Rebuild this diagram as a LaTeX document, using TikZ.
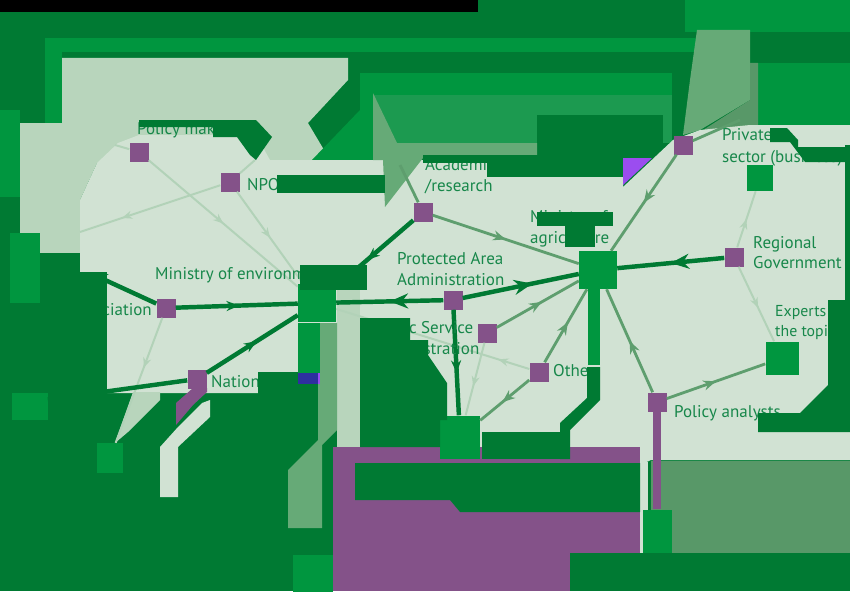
\documentclass[tikz,border=0pt]{standalone}
\usepackage{fontspec}
\setmainfont{PT Sans}
\usetikzlibrary{arrows.meta, decorations.markings}

\definecolor{dkgreen}{HTML}{007A33}
\definecolor{nodegreen}{HTML}{00963F}
\definecolor{bglight}{HTML}{D1E2D3}
\definecolor{palegreen}{HTML}{B8D5BC}
\definecolor{wedgegreen}{HTML}{66AA77}
\definecolor{sagegreen}{HTML}{589868}
\definecolor{leafgreen}{HTML}{1C9A50}
\definecolor{actor}{HTML}{845289}
\definecolor{txtgreen}{HTML}{17874A}
\definecolor{medline}{HTML}{5E9E6E}
\definecolor{ltline}{HTML}{B2D2B8}
\definecolor{violet}{HTML}{9B4DEF}
\definecolor{inkblue}{HTML}{2E2FA0}

\begin{document}
\begin{tikzpicture}[x=0.03cm, y=-0.03cm,
    purplebox/.style={fill=actor, minimum size=0.57cm, inner sep=0pt},
    greenbox/.style={fill=nodegreen, minimum size=#1, inner sep=0pt},
    lbl/.style={text=txtgreen, font=\fontsize{14.5}{17}\selectfont, inner sep=0pt, anchor=base west},
    mainlink/.style={draw=dkgreen, line width=3.8pt},
    sidelink/.style={draw=medline, line width=2.4pt},
    weaklink/.style={draw=ltline, line width=1.7pt},
    bigarr/.style={postaction={decorate}, decoration={markings, mark=at position #1 with {\arrow{Stealth[length=0.55cm, width=0.45cm]}}}},
    midarr/.style={postaction={decorate}, decoration={markings, mark=at position #1 with {\arrow{Stealth[length=0.38cm, width=0.3cm]}}}},
    smallarr/.style={postaction={decorate}, decoration={markings, mark=at position #1 with {\arrow{Stealth[length=0.3cm, width=0.24cm]}}}}]
\useasboundingbox (0,0) rectangle (850,591);

% Фон
\fill[dkgreen] (0,0) rectangle (850,591);
\fill[black] (0,0) rectangle (478,12);
\fill[nodegreen] (685,0) rectangle (850,32);
\fill[nodegreen] (45,38) rectangle (697,52);
\fill[nodegreen] (45,52) rectangle (62,132);
\fill[nodegreen] (0,110) rectangle (20,197);
\fill[palegreen] (20,123) -- (62,123) -- (62,58) -- (348,58) -- (348,80) -- (308,123) -- (330,160)
  -- (97,163) -- (80,200) -- (80,253) -- (40,253) -- (40,233) -- (20,233) -- cycle;
\fill[nodegreen] (360,73) rectangle (672,95);
\fill[nodegreen] (312,160) -- (360,110) -- (360,73) -- (373,73) -- (373,160) -- cycle;
\fill[leafgreen] (373,95) rectangle (672,143);
\fill[dkgreen] (537,115) rectangle (663,158);
\fill[nodegreen] (758,63) rectangle (850,125);
\fill[wedgegreen] (697,30) -- (750,30) -- (750,100) -- (700,130) -- (683,135) -- (690,80) -- cycle;
\fill[sagegreen] (750,63) -- (758,63) -- (758,125) -- (700,132) -- (750,100) -- cycle;

% Светлая область
\fill[bglight] (80,200) -- (97,163) -- (118,143) -- (139,135) -- (256,135) -- (270,160) -- (623,160)
  -- (623,187) -- (673,140) -- (700,130) -- (750,125) -- (850,125) -- (850,460) -- (651,460)
  -- (640,465) -- (570,465) -- (570,432) -- (482,432) -- (482,458) -- (440,458) -- (440,447)
  -- (337,447) -- (337,372) -- (258,372) -- (258,393) -- (107,393) -- (107,272) -- (80,272) -- cycle;
\fill[wedgegreen] (373,93) -- (397,143) -- (537,143) -- (537,158) -- (423,158) -- (385,207) -- (383,160) -- (373,160) -- cycle;
\fill[violet] (623,158) -- (652,158) -- (623,185) -- cycle;
\fill[palegreen] (337,290) rectangle (360,447);
\fill[wedgegreen] (318,323) -- (337,323) -- (337,430) -- (322,445) -- (322,528) -- (288,528) -- (288,470) -- (318,440) -- cycle;
\fill[sagegreen] (651,461) rectangle (850,553);
\fill[bglight] (640,462) rectangle (648,578);
\fill[actor] (333,447) rectangle (640,591);
\fill[dkgreen] (355,463) -- (640,463) -- (640,512) -- (460,512) -- (450,500) -- (355,500) -- cycle;
\fill[dkgreen] (570,553) rectangle (850,591);
\fill[palegreen] (115,443) -- (133,392) -- (160,392) -- (160,400) -- (128,432) -- cycle;
\fill[bglight] (160,447) -- (178,427) -- (202,403) -- (210,400) -- (210,417) -- (178,447) -- (178,497) -- (160,497) -- cycle;
\fill[actor] (176,403) -- (193,388) -- (207,388) -- (207,392) -- (193,405) -- (176,425) -- cycle;

% Узлы
\node[purplebox] (pm) at (139,152) {};
\node[purplebox] (npo) at (230,182) {};
\node[purplebox] (acad) at (423,212) {};
\node[purplebox] (pa) at (453,300) {};
\node[purplebox] (assoc) at (166,308) {};
\node[purplebox] (nat) at (197,379) {};
\node[purplebox] (psa) at (487,333) {};
\node[purplebox] (oth) at (539,372) {};
\node[purplebox] (priv) at (683,145) {};
\node[purplebox] (reg) at (734,257) {};
\node[purplebox] (pan) at (657,402) {};
\node[greenbox=1.14cm] (magr) at (598,270) {};
\node[greenbox=1.14cm] (menv) at (317,303) {};
\node[greenbox=1.2cm, minimum height=1.29cm] (gbot) at (460,437) {};
\node[greenbox=0.78cm] (privg) at (760,178) {};
\node[greenbox=0.99cm] (exp) at (782,358) {};
\node[greenbox=0.87cm, minimum height=1.29cm] (pang) at (657,531) {};
\node[greenbox=1.05cm] (gleft) at (30,402) {};
\node[greenbox=0.78cm, minimum height=0.9cm] (glow) at (110,458) {};
\node[greenbox=1.2cm] (gfoot) at (313,575) {};
\coordinate (pmw) at (115,145);
\coordinate (npow) at (80,232);
\coordinate (npon) at (255,160);
\coordinate (acadn) at (400,165);
\coordinate (assocw) at (92,274);
\coordinate (privne) at (740,120);

% Связи
\draw[weaklink] (pm) -- (pmw);
\draw[weaklink, smallarr=0.5] (pm) -- (menv);
\draw[weaklink, smallarr=0.5] (npo) -- (menv);
\draw[weaklink, smallarr=0.7] (npo) -- (npow);
\draw[weaklink] (npo) -- (npon);
\draw[weaklink, smallarr=0.4] (assoc) -- (glow);
\draw[weaklink, smallarr=0.6] (psa) -- (gbot);
\draw[weaklink, smallarr=0.16] (oth) -- (menv);
\draw[weaklink, smallarr=0.5] (reg) -- (privg);
\draw[weaklink, smallarr=0.55] (reg) -- (exp);
\draw[sidelink] (acad) -- (acadn);
\draw[sidelink, midarr=0.5] (acad) -- (magr);
\draw[sidelink, midarr=0.55] (psa) -- (magr);
\draw[sidelink, midarr=0.55] (oth) -- (magr);
\draw[sidelink, midarr=0.55] (oth) -- (gbot);
\draw[sidelink, midarr=0.5] (priv) -- (magr);
\draw[sidelink] (priv) -- (privne);
\draw[sidelink, midarr=0.5] (pan) -- (magr);
\draw[sidelink, midarr=0.5] (pan) -- (exp);
\draw[actor, line width=6pt] (pan) -- (pang);
\draw[mainlink, midarr=0.6] (acad) -- (menv);
\draw[mainlink, midarr=0.52] (assoc) -- (menv);
\draw[mainlink, -{Stealth[length=0.45cm, width=0.4cm]}] (assoc) -- (assocw);
\draw[mainlink, midarr=0.55] (nat) -- (menv);
\draw[mainlink] (nat) -- (gleft);
\draw[mainlink, bigarr=0.6] (pa) -- (magr);
\draw[mainlink, bigarr=0.5] (pa) -- (menv);
\draw[mainlink, midarr=0.6] (pa) -- (gbot);
\draw[mainlink, bigarr=0.5] (reg) -- (magr);

% Подписи
\node[lbl] (lpm) at (137,134) {Policy makers};
\node[lbl] (lnpo) at (247,190) {NPOs};
\node[lbl] (lacad1) at (425,170) {Academia};
\node[lbl] (lacad2) at (425,191) {/research};
\node[lbl] (lmagr1) at (530,222) {Ministry of};
\node[lbl] (lmagr2) at (530,243) {agriculture};
\node[lbl] (lpa1) at (397,264) {Protected Area};
\node[lbl] (lpa2) at (397,285) {Administration};
\node[lbl] (lmenv) at (155,279) {Ministry of environment};
\node[lbl, anchor=base east] (lassoc) at (152,315) {Association};
\node[lbl] (lnat) at (211,387) {National};
\node[lbl] (lpsa1) at (372,333) {Public Service};
\node[lbl] (lpsa2) at (372,354) {Administration};
\node[lbl] (loth) at (553,376) {Other};
\node[lbl] (lpriv1) at (722,140) {Private};
\node[lbl] (lpriv2) at (722,162) {sector (business)};
\node[lbl] (lreg1) at (753,248) {Regional};
\node[lbl] (lreg2) at (753,268) {Government};
\node[lbl, font=\fontsize{13.5}{16}\selectfont] (lexp1) at (775,316) {Experts on};
\node[lbl, font=\fontsize{13.5}{16}\selectfont] (lexp2) at (775,336) {the topic};
\node[lbl] (lpan) at (674,417) {Policy analysts};

% Помехи поверх
\fill[dkgreen] (139,120) -- (256,120) -- (272,137) -- (256,160) -- (250,155) -- (237,137) -- (213,137)
  -- (213,127) -- (139,127) -- cycle;
\fill[dkgreen] (277,175) rectangle (385,193);
\fill[dkgreen] (423,155) rectangle (623,163);
\fill[dkgreen] (487,155) rectangle (623,177);
\fill[dkgreen] (537,212) rectangle (613,226);
\fill[dkgreen] (565,226) rectangle (595,247);
\fill[dkgreen] (300,265) rectangle (367,290);
\fill[dkgreen] (0,233) rectangle (80,393);
\fill[dkgreen] (80,272) rectangle (107,393);
\fill[palegreen] (40,233) rectangle (80,253);
\fill[nodegreen] (10,233) rectangle (40,303);
\fill[dkgreen] (258,372) rectangle (298,393);
\fill[dkgreen] (360,318) -- (410,318) -- (410,340) -- (428,340) -- (428,355) -- (447,383) -- (447,420)
  -- (440,420) -- (440,447) -- (360,447) -- cycle;
\fill[dkgreen] (587,367) -- (600,367) -- (600,400) -- (570,430) -- (570,459) -- (560,459) -- (560,423) -- (587,398) -- cycle;
\fill[dkgreen] (482,432) rectangle (570,459);
\fill[dkgreen] (770,128) -- (787,128) -- (798,140) -- (798,147) -- (850,147) -- (850,162) -- (805,162) -- (790,142) -- (770,142) -- cycle;
\fill[dkgreen] (845,145) rectangle (850,300);
\fill[dkgreen] (828,300) -- (850,300) -- (850,432) -- (758,432) -- (758,413) -- (800,413) -- (828,385) -- cycle;
\fill[nodegreen] (298,323) rectangle (320,373);
\fill[inkblue] (298,373) rectangle (318,384);
\fill[violet] (318,373) rectangle (320,384);
\fill[nodegreen] (588,289) rectangle (600,365);
\end{tikzpicture}
\end{document}
